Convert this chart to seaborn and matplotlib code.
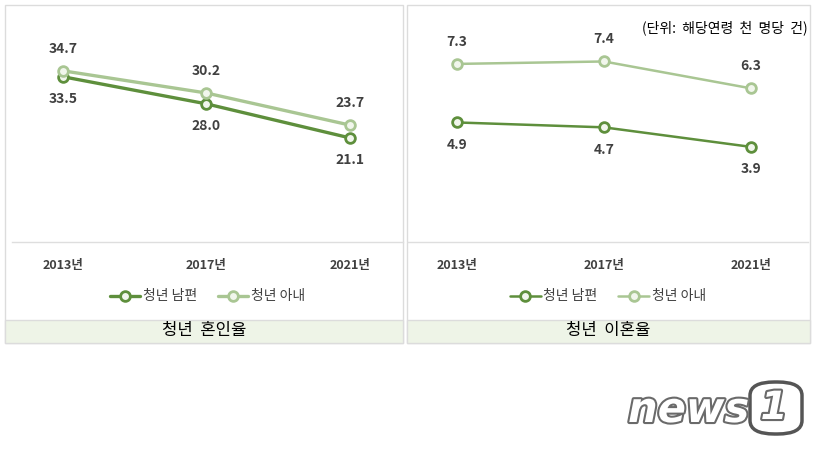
import numpy as np
import pandas as pd
import matplotlib
matplotlib.use('Agg')
import matplotlib.pyplot as plt
import matplotlib.patheffects as pe
from matplotlib.patches import Rectangle, FancyBboxPatch
import seaborn as sns

sns.set_theme(style='white')
plt.rcParams['font.family'] = ['Noto Sans CJK KR', 'DejaVu Sans']

years = ['2013년', '2017년', '2021년']
series_names = ['청년 남편', '청년 아내']
marriage_husband = [33.5, 28.0, 21.1]
marriage_wife = [34.7, 30.2, 23.7]
divorce_husband = [4.9, 4.7, 3.9]
divorce_wife = [7.3, 7.4, 6.3]
panel_titles = ['청년  혼인율', '청년  이혼율']
unit_text = '(단위:  해당연령  천  명당  건)'

DARK = '#5e8f3c'
LIGHT = '#a9c693'
TXT = '#404040'

W, H = 818, 449
fig = plt.figure(figsize=(W / 100, H / 100), dpi=100)


def px(x0, y0, x1, y1):
    # pixel box (top-left origin) -> figure fraction rect
    return [x0 / W, 1 - y1 / H, (x1 - x0) / W, (y1 - y0) / H]


def draw_panel(box, ax_box, xlim, ylim, husband, wife, lw, title):
    # outer frame
    fig.patches.append(Rectangle((box[0] / W, 1 - box[3] / H), (box[2] - box[0]) / W,
                                 (box[3] - box[1]) / H, transform=fig.transFigure,
                                 facecolor='white', edgecolor='#dcdcdc', lw=1, zorder=-2))
    # title band
    fig.patches.append(Rectangle((box[0] / W, 1 - box[3] / H), (box[2] - box[0]) / W,
                                 23 / H, transform=fig.transFigure,
                                 facecolor='#eef4e7', edgecolor='#dcdcdc', lw=1, zorder=-1))
    fig.text((box[0] + box[2]) / 2 / W, 1 - (box[3] - 12) / H, title, ha='center', va='center',
             fontsize=12, fontweight='medium', color='black')

    ax = fig.add_axes(px(*ax_box))
    ax.set_zorder(2)
    ax.patch.set_alpha(0)
    df = pd.DataFrame({'x': np.arange(len(years)), 'husband': husband, 'wife': wife})
    for col, color, name in [('husband', DARK, series_names[0]), ('wife', LIGHT, series_names[1])]:
        sns.lineplot(data=df, x='x', y=col, ax=ax, color=color, lw=lw, marker='o',
                     markersize=7, markeredgewidth=2, markeredgecolor=color,
                     markerfacecolor='#f1f6ec', label=name, zorder=3)
    for i in range(len(years)):
        ax.annotate(f'{wife[i]:.1f}', (i, wife[i]), xytext=(0, 11), textcoords='offset points',
                    ha='center', va='bottom', fontsize=10, fontweight='bold', color=TXT)
        ax.annotate(f'{husband[i]:.1f}', (i, husband[i]), xytext=(0, -11), textcoords='offset points',
                    ha='center', va='top', fontsize=10, fontweight='bold', color=TXT)
    ax.set_xlim(*xlim)
    ax.set_ylim(*ylim)
    ax.set_xticks(range(len(years)))
    ax.set_xticklabels(years, fontsize=9, fontweight='bold', color=TXT)
    ax.tick_params(axis='x', length=0, pad=12)
    ax.set_yticks([])
    ax.set_xlabel('')
    ax.set_ylabel('')
    for s in ['top', 'left', 'right']:
        ax.spines[s].set_visible(False)
    ax.spines['bottom'].set_color('#dedede')
    ax.spines['bottom'].set_linewidth(1)
    ax.legend(loc='center', bbox_to_anchor=(0.5, -0.245), ncol=2, frameon=False,
              prop={'size': 10, 'weight': 'medium'}, handlelength=2.2, columnspacing=1.5,
              handletextpad=0.2, labelcolor=TXT)
    return ax


draw_panel((5, 5, 403, 343), (12, 20, 403, 242), (-0.355, 2.37), (0, 45),
           marriage_husband, marriage_wife, 2.4, panel_titles[0])
draw_panel((407, 5, 810, 343), (408, 20, 808, 242), (-0.335, 2.39), (0, 9.1),
           divorce_husband, divorce_wife, 1.8, panel_titles[1])

fig.text(808 / W, 1 - 28 / H, unit_text, ha='right', va='center', fontsize=10, color='black')

# news1 mark
fig.text(628 / W, 1 - 410 / H, 'news', fontsize=30, style='italic', fontweight='bold',
         color='white', family='DejaVu Sans', va='center', ha='left',
         path_effects=[pe.withStroke(linewidth=3, foreground='#6a6a6a')])
fig.patches.append(FancyBboxPatch((750 / W, 1 - 434 / H), 52 / W, 52 / H,
                                  boxstyle='round,pad=0,rounding_size=0.03',
                                  transform=fig.transFigure, facecolor='white',
                                  edgecolor='#555555', lw=2.5))
fig.text(774 / W, 1 - 408 / H, '1', fontsize=28, style='italic', fontweight='bold',
         color='white', family='DejaVu Sans', va='center', ha='center',
         path_effects=[pe.withStroke(linewidth=3, foreground='#6a6a6a')])

fig.savefig('out.png', dpi=100)
